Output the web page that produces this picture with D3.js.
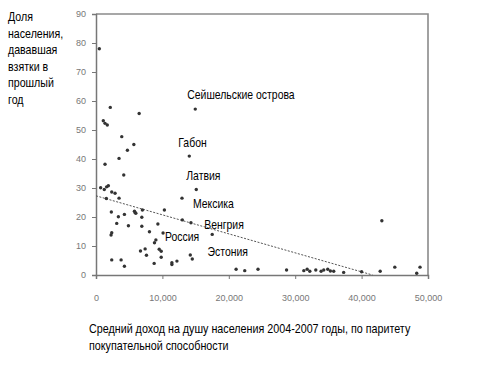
<!DOCTYPE html>
<html>
<head>
<meta charset="utf-8">
<script src="https://cdn.jsdelivr.net/npm/d3@7"></script>
<style>
    body { margin: 0; background: #fff; }
    text { font-family: "Liberation Sans", Arial, sans-serif; }
</style>
</head>
<body>
<div id="chart"></div>
<script>
// средний доход (ППС) и доля давших взятку, %
var income = [500, 2150, 1100, 1360, 1700, 6500, 3880, 5700, 4730, 3470,
    1360, 4180, 700, 1250, 1600, 1860, 2370, 2870, 1560, 3470,
    2310, 3370, 4280, 3120, 5790, 5890, 6000, 6990, 4880, 6900,
    2370, 2270, 8050, 9320, 9020, 8810, 6700, 7400, 7600, 8760,
    9520, 9820, 9820, 2370, 3780, 4280, 11430, 11430, 12190, 14200,
    14500, 10300, 13000, 14300, 6900, 21100, 22400, 24400, 28700, 31300,
    31800, 32200, 33100, 33900, 34300, 34900, 35300, 35800, 37300, 40000,
    42800, 45000, 48300, 48800, 43050];
var bribes = [78, 57.8, 53.2, 52.3, 51.7, 55.7, 47.7, 45, 43, 40.2,
    38.2, 34.5, 30.1, 29.5, 30.4, 30.8, 28.6, 28.2, 26.4, 26.5,
    21.7, 20.1, 20.9, 17.8, 22, 21.5, 21.3, 22.4, 17, 16.8,
    14.6, 13.8, 14.9, 17.6, 12.1, 11.1, 8.3, 9, 6.8, 4,
    8.9, 8.2, 6.1, 5.2, 5.2, 3, 4.2, 3.6, 4.8, 6.9,
    5.5, 22.4, 19, 18, 19.9, 2, 1.5, 2, 1.7, 1.5,
    2, 1.3, 1.7, 1.3, 1.7, 2, 1.4, 1.3, 0.9, 1.1,
    1.3, 2.7, 0.6, 2.7, 18.7];

var countries = ["Сейшельские острова", "Габон", "Латвия", "Мексика", "Венгрия", "Россия"];
var countryIncome = [14950, 14050, 15100, 12950, 17500, 10100];
var countryBribes = [57.2, 41, 29.5, 26.5, 14, 14.5];

// подпись без точки
var extraLabel = "Эстония";
var extraIncome = 16800, extraBribes = 6.5;

var trendIncome = [0, 41650];
var trendBribes = [27.3, 0];

var xTicks = [0, 10000, 20000, 30000, 40000, 50000];
var yTicks = [0, 10, 20, 30, 40, 50, 60, 70, 80, 90];

var yTitle = ["Доля", "населения,", "дававшая", "взятки в", "прошлый", "год"];
var xTitle = ["Средний доход на душу населения 2004-2007 годы, по паритету",
    "покупательной способности"];

var width = 496,
    height = 377;

var svg = d3.select("#chart")
    .append("svg")
    .attr("width", width)
    .attr("height", height)

var x = d3.scaleLinear().domain([0, 50000]).range([96, 428])
var y = d3.scaleLinear().domain([0, 90]).range([275, 14])

var fmt = d3.format(",")

// узкий шрифт, как в оригинале
function narrow(sel, px, py, s) {
    sel.attr("transform", function(d, i) {
        return "translate(" + px(d, i) + "," + py(d, i) + ") scale(" + s + ",1)"
    })
}

// рамка
svg.append("path")
    .attr("d", "M" + x(0) + "," + y(90) + "H" + x(50000) + "V" + y(0))
    .attr("fill", "none")
    .attr("stroke", "#8a8a8a")
    .attr("stroke-width", 1.6)

var xAxis = svg.append("g")
    .attr("transform", "translate(0," + y(0) + ")")
    .call(d3.axisBottom(x).tickValues(xTicks).tickFormat(fmt).tickSizeOuter(0).tickSize(4).tickPadding(16))
var yAxis = svg.append("g")
    .attr("transform", "translate(" + x(0) + ",0)")
    .call(d3.axisLeft(y).tickValues(yTicks).tickSizeOuter(0).tickSize(4).tickPadding(6))

svg.selectAll(".domain").attr("stroke", "#777").attr("stroke-width", 1.5)
svg.selectAll(".tick line").attr("stroke", "#777")
svg.selectAll(".tick text")
    .attr("fill", "#777")
    .style("font-size", "9px")

// линия тренда
svg.append("line")
    .attr("x1", x(trendIncome[0]))
    .attr("y1", y(trendBribes[0]))
    .attr("x2", x(trendIncome[1]))
    .attr("y2", y(trendBribes[1]))
    .attr("stroke", "#555")
    .attr("stroke-width", 1)
    .attr("stroke-dasharray", "2,1.5")

var points = income.map(function(d, i) {
    return { income: d, bribes: bribes[i] }
}).concat(countries.map(function(c, i) {
    return { income: countryIncome[i], bribes: countryBribes[i] }
}))

svg.selectAll(".dot")
    .data(points)
    .enter().append("circle")
    .attr("class", "dot")
    .attr("cx", function(d) { return x(d.income) })
    .attr("cy", function(d) { return y(d.bribes) })
    .attr("r", 1.7)
    .attr("fill", "#333")

// подписи стран
var labelDx = [-8, -11, -10, 11, -8, 2];
var labelDy = [-10, -9, -9, 10, -5, 8];
svg.selectAll(".label")
    .data(countries)
    .enter().append("text")
    .attr("class", "label")
    .attr("font-size", "12px")
    .attr("fill", "#000")
    .text(function(d) { return d })
    .call(narrow,
        function(d, i) { return x(countryIncome[i]) + labelDx[i] },
        function(d, i) { return y(countryBribes[i]) + labelDy[i] }, 0.87)

svg.append("text")
    .attr("font-size", "12px")
    .text(extraLabel)
    .call(narrow, function() { return x(extraIncome) }, function() { return y(extraBribes) }, 0.87)

svg.append("g").selectAll("text")
    .data(yTitle)
    .enter().append("text")
    .attr("font-size", "12.5px")
    .text(function(d) { return d })
    .call(narrow, function() { return 8 }, function(d, i) { return 21 + i * 16.5 }, 0.85)

svg.append("g").selectAll("text")
    .data(xTitle)
    .enter().append("text")
    .attr("font-size", "12.5px")
    .text(function(d) { return d })
    .call(narrow, function() { return 89 }, function(d, i) { return 333 + i * 16.5 }, 0.86)
</script>
</body>
</html>
